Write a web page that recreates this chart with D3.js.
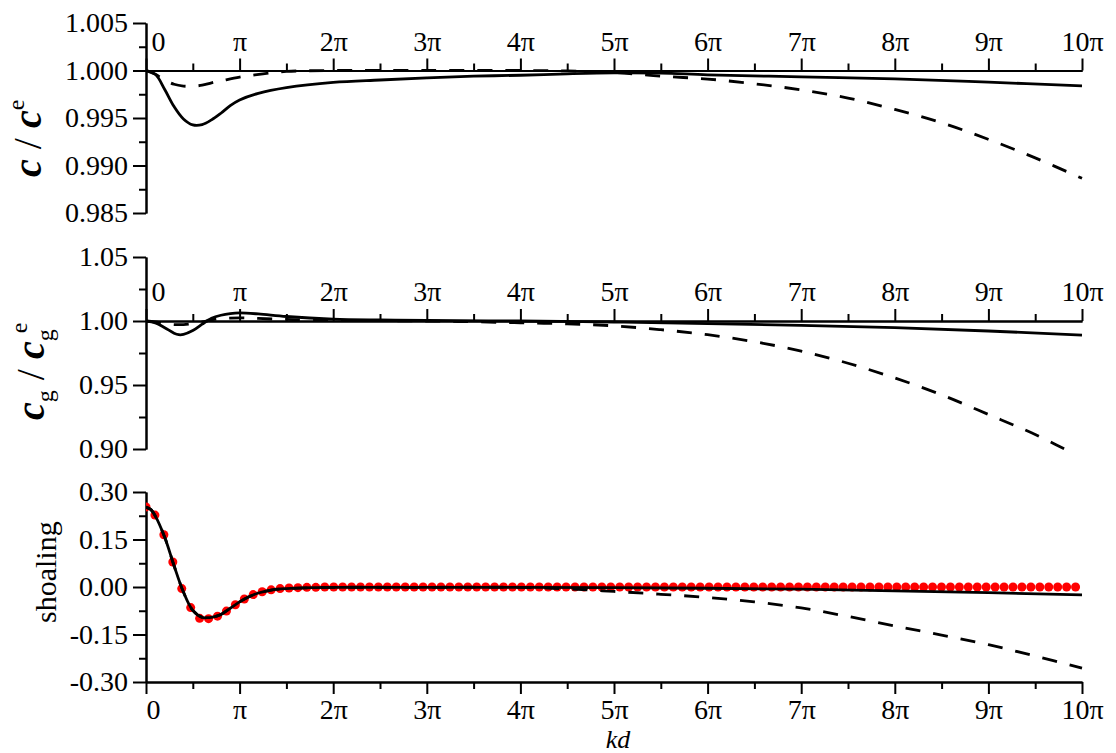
<!DOCTYPE html>
<html>
<head>
<meta charset="utf-8">
<script src="https://cdn.jsdelivr.net/npm/d3@7"></script>
<style>
  body { margin: 0; background: #fff; }
  svg { display: block; }
  .axis path, .axis line { stroke: #000; stroke-width: 2px; }
  .axis text { font-family: "Liberation Serif", serif; font-size: 28px; fill: #000; }
  .ylab { font-family: "Liberation Serif", serif; fill: #000; }
</style>
</head>
<body>
<div id="main"></div>
<script>
// x positions are in units of pi (kd / pi)
const xTicks = [0, 1, 2, 3, 4, 5, 6, 7, 8, 9, 10];
const xTickLabels = ["0", "π", "2π", "3π", "4π", "5π", "6π", "7π", "8π", "9π", "10π"];
const xMinor = [0.5, 1.5, 2.5, 3.5, 4.5, 5.5, 6.5, 7.5, 8.5, 9.5];

// c / c^e
const topTicks = [0.985, 0.990, 0.995, 1.000, 1.005];
const topTickLabels = ["0.985", "0.990", "0.995", "1.000", "1.005"];
const topMinor = [0.9875, 0.9925, 0.9975, 1.0025];
const topSolidX = [0, 0.1, 0.2, 0.3, 0.4, 0.5, 0.6, 0.7, 0.8, 0.9, 1.0, 1.2, 1.5, 2, 2.5, 3, 3.5, 4, 4.5, 5, 5.5, 6, 7, 8, 9, 10];
const topSolidY = [1.0, 0.9996, 0.9980, 0.9962, 0.9949, 0.99427, 0.9943, 0.9948, 0.9955, 0.9963, 0.9969, 0.9976, 0.9982, 0.99875, 0.9990, 0.99922, 0.9994, 0.9995, 0.99965, 0.99975, 0.99972, 0.99955, 0.99933, 0.99912, 0.99877, 0.99838];
const topDashX = [0, 0.1, 0.2, 0.3, 0.4, 0.5, 0.6, 0.7, 0.8, 1.0, 1.25, 1.5, 2, 3, 4, 4.5, 5, 5.5, 6, 6.5, 7, 7.5, 8, 8.5, 9, 9.5, 10];
const topDashY = [1.0, 0.9996, 0.9990, 0.99855, 0.99836, 0.99835, 0.99845, 0.9987, 0.9989, 0.9993, 0.99965, 0.9999, 1.0, 1.0, 1.0, 0.99995, 0.9998, 0.9994, 0.9991, 0.9986, 0.99796, 0.9971, 0.9959, 0.9945, 0.99275, 0.9908, 0.98865];

// c_g / c_g^e
const midTicks = [0.90, 0.95, 1.00, 1.05];
const midTickLabels = ["0.90", "0.95", "1.00", "1.05"];
const midMinor = [0.925, 0.975, 1.025];
const midSolidX = [0, 0.1, 0.2, 0.3, 0.35, 0.4, 0.5, 0.6, 0.65, 0.7, 0.8, 0.9, 1.0, 1.2, 1.5, 2, 2.5, 3, 4, 5, 6, 7, 8, 9, 10];
const midSolidY = [1.0, 0.9985, 0.9948, 0.9905, 0.9893, 0.9895, 0.9925, 0.9975, 1.0, 1.0022, 1.0045, 1.0058, 1.0063, 1.0055, 1.0035, 1.0015, 1.0008, 1.0004, 1.0, 0.9992, 0.998, 0.9966, 0.9948, 0.9922, 0.989];
const midDashX = [0, 0.1, 0.2, 0.3, 0.4, 0.5, 0.6, 0.7, 0.8, 1.0, 1.2, 1.5, 2, 3, 3.5, 4, 4.5, 5, 5.5, 6, 6.5, 7, 7.5, 8, 8.5, 9, 9.5, 10];
const midDashY = [1.0, 0.9993, 0.9980, 0.9972, 0.9972, 0.998, 0.9993, 1.0008, 1.0018, 1.0025, 1.002, 1.0012, 1.0005, 1.0, 0.9994, 0.9986, 0.9978, 0.9962, 0.9932, 0.9893, 0.9838, 0.9765, 0.967, 0.9555, 0.9423, 0.927, 0.9113, 0.893];

// shoaling
const botTicks = [-0.30, -0.15, 0.00, 0.15, 0.30];
const botTickLabels = ["-0.30", "-0.15", "0.00", "0.15", "0.30"];
const botMinor = [-0.225, -0.075, 0.075, 0.225];
const botSolidX = [0, 0.05, 0.1, 0.2, 0.3, 0.4, 0.5, 0.6, 0.65, 0.7, 0.8, 0.9, 1.0, 1.1, 1.2, 1.35, 1.5, 1.8, 2, 3, 4, 5, 6, 7, 8, 9, 10];
const botSolidY = [0.252, 0.245, 0.224, 0.157, 0.067, -0.016, -0.074, -0.096, -0.097, -0.096, -0.087, -0.067, -0.047, -0.031, -0.019, -0.009, -0.005, -0.002, -0.001, -0.001, -0.001, -0.002, -0.004, -0.007, -0.012, -0.018, -0.025];
const botDashX = [0, 0.05, 0.1, 0.2, 0.3, 0.4, 0.5, 0.6, 0.65, 0.7, 0.8, 0.9, 1.0, 1.1, 1.2, 1.35, 1.5, 1.8, 2, 3, 4, 4.5, 5, 5.5, 6, 6.5, 7, 7.5, 8, 8.5, 9, 9.5, 10];
const botDashY = [0.252, 0.245, 0.224, 0.157, 0.067, -0.016, -0.074, -0.096, -0.097, -0.096, -0.087, -0.067, -0.047, -0.031, -0.019, -0.009, -0.005, -0.002, -0.001, -0.001, -0.001, -0.006, -0.014, -0.023, -0.033, -0.047, -0.066, -0.093, -0.123, -0.152, -0.182, -0.218, -0.256];
// red markers, one every 0.3 in kd
const dotStep = 0.3;
const dotY = [
  0.253, 0.227, 0.165, 0.079, -0.005, -0.065, -0.099, -0.100, -0.092, -0.076,
  -0.056, -0.038, -0.024, -0.015, -0.009, -0.005, -0.003, -0.002, -0.001, -0.001,
  0, 0, 0, 0, 0, 0, 0, 0, 0, 0,
  0, 0, 0, 0, 0, 0, 0, 0, 0, 0,
  0, 0, 0, 0, 0, 0, 0, 0, 0, 0,
  0, 0, 0, 0, 0, 0, 0, 0, 0, 0,
  0, 0, 0, 0, 0, 0, 0, 0, 0, 0,
  0, 0, 0, 0, 0, 0, 0, 0, 0, 0,
  0, 0, 0, 0, 0, 0, 0, 0, 0, 0,
  0, 0, 0, 0, 0, 0, 0, 0, 0, 0,
  0, 0, 0, 0, 0
];

const ctx = {
  W: 1116,
  H: 753,
  X0: 146,
  X1: 1082,
};

function drawPanel(svg, p, id) {
  const x = d3.scaleLinear().domain([0, 10]).range([ctx.X0, ctx.X1]);
  const y = d3.scaleLinear().domain(p.domain).range([p.y1, p.y0]);

  svg.append("clipPath").attr("id", "clip" + id)
    .append("rect")
    .attr("x", ctx.X0).attr("y", p.y0 - 2)
    .attr("width", ctx.X1 - ctx.X0 + 2).attr("height", p.y1 - p.y0 + 4);

  // y axis, minor then major
  svg.append("g").attr("class", "axis")
    .attr("transform", `translate(${ctx.X0},0)`)
    .call(d3.axisLeft(y).tickValues(p.minor).tickSize(7).tickSizeOuter(0).tickFormat(""));
  svg.append("g").attr("class", "axis")
    .attr("transform", `translate(${ctx.X0},0)`)
    .call(d3.axisLeft(y).tickValues(p.ticks).tickSize(13).tickSizeOuter(0).tickPadding(5)
      .tickFormat((d, i) => p.labels[i]));

  // x axis (at y = 1 for the top panels, at the bottom for shoaling)
  const axisFn = p.bottom ? d3.axisBottom : d3.axisTop;
  const ax = p.bottom ? p.y1 : y(1);
  svg.append("g").attr("class", "axis")
    .attr("transform", `translate(0,${ax})`)
    .call(axisFn(x).tickValues(xMinor).tickSize(7).tickSizeOuter(0).tickFormat(""));
  const gx = svg.append("g").attr("class", "axis")
    .attr("transform", `translate(0,${ax})`)
    .call(axisFn(x).tickValues(xTicks).tickSize(12).tickSizeOuter(0).tickPadding(p.bottom ? 5 : 8)
      .tickFormat((d, i) => xTickLabels[i]));
  gx.selectAll(".tick text").filter(d => d === 0).attr("dx", p.bottom ? 7 : 12);

  const plot = svg.append("g").attr("clip-path", `url(#clip${id})`);

  if (p.dots) {
    plot.selectAll(".dot")
      .data(p.dots)
      .enter().append("circle")
      .attr("class", "dot")
      .attr("cx", (d, i) => x(i * dotStep / Math.PI))
      .attr("cy", d => y(d))
      .attr("r", 4.5)
      .style("fill", "#ff0000");
  }

  const line = d3.line()
    .x(d => x(d[0]))
    .y(d => y(d[1]))
    .curve(d3.curveCatmullRom.alpha(0.5));

  plot.append("path")
    .datum(p.dashX.map((v, i) => [v, p.dashY[i]]))
    .attr("d", line)
    .style("fill", "none").style("stroke", "#000")
    .style("stroke-width", 2.8).style("stroke-dasharray", "15,13");

  plot.append("path")
    .datum(p.solidX.map((v, i) => [v, p.solidY[i]]))
    .attr("d", line)
    .style("fill", "none").style("stroke", "#000")
    .style("stroke-width", 2.8);
}

function createViz() {
  const svg = d3.select("#main").append("svg")
    .attr("width", ctx.W).attr("height", ctx.H);

  const panels = [
    { domain: [0.985, 1.005], y0: 23, y1: 213, ticks: topTicks, labels: topTickLabels, minor: topMinor,
      solidX: topSolidX, solidY: topSolidY, dashX: topDashX, dashY: topDashY },
    { domain: [0.90, 1.05], y0: 257, y1: 449, ticks: midTicks, labels: midTickLabels, minor: midMinor,
      solidX: midSolidX, solidY: midSolidY, dashX: midDashX, dashY: midDashY },
    { domain: [-0.30, 0.30], y0: 492, y1: 682, ticks: botTicks, labels: botTickLabels, minor: botMinor,
      solidX: botSolidX, solidY: botSolidY, dashX: botDashX, dashY: botDashY, dots: dotY, bottom: true },
  ];
  panels.forEach((p, i) => drawPanel(svg, p, i));

  // y axis titles
  const t1 = svg.append("text").attr("class", "ylab")
    .attr("transform", "translate(41,177) rotate(-90)")
    .style("font-size", "40px");
  t1.append("tspan").text("c").style("font-weight", "bold").style("font-style", "italic");
  t1.append("tspan").text(" / ");
  t1.append("tspan").text("c").style("font-weight", "bold").style("font-style", "italic");
  t1.append("tspan").text("e").attr("dy", -17).style("font-size", "24px");

  const t2 = svg.append("text").attr("class", "ylab")
    .attr("transform", "translate(44,420) rotate(-90)")
    .style("font-size", "40px");
  t2.append("tspan").text("c").style("font-weight", "bold").style("font-style", "italic");
  t2.append("tspan").text("g").attr("dy", 9).style("font-size", "24px");
  t2.append("tspan").text(" / ").attr("dy", -9);
  t2.append("tspan").text("c").style("font-weight", "bold").style("font-style", "italic");
  t2.append("tspan").text("g").attr("dy", 9).style("font-size", "24px");
  t2.append("tspan").text("e").attr("dx", -4).attr("dy", -26).style("font-size", "24px");

  svg.append("text").attr("class", "ylab")
    .attr("transform", "translate(56,623) rotate(-90)")
    .style("font-size", "30px")
    .text("shoaling");

  svg.append("text").attr("class", "ylab")
    .attr("x", (ctx.X0 + ctx.X1) / 2 + 4).attr("y", 748)
    .attr("text-anchor", "middle")
    .style("font-size", "26px").style("font-style", "italic")
    .text("kd");
}

createViz();
</script>
</body>
</html>
